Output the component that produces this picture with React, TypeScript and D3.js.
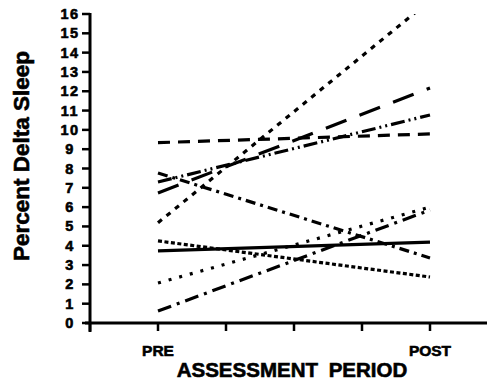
import * as d3 from 'd3';

// Assessment periods (x positions on a 0..5 axis)
const periods = ['PRE', 'POST'];
const periodPos = [1, 5];

// Percent delta sleep per subject: [PRE, POST]
const subjectIds = ['s1', 's2', 's3', 's4', 's5', 's6', 's7', 's8', 's9'];
const preValues = [9.34, 5.19, 6.73, 7.3, 7.77, 3.73, 4.25, 2.07, 0.62];
const postValues = [9.79, 16.7, 12.17, 10.77, 3.37, 4.19, 2.38, 6.0, 5.85];
const dashStyles = [
  '12,8',
  '5,6',
  '22,14',
  '14,4,2,4,2,4',
  '10,5,3,5',
  'none',
  '4,2.5',
  '3,8',
  '14,6,3,6',
];

const yTicks = d3.range(0, 17);
const xTicks = [0, 1, 2, 3, 4, 5];

const W = 487;
const H = 381;
const FONT = '"Liberation Sans", Arial, Helvetica, sans-serif';

export default function App() {
  const x = d3.scaleLinear().domain([0, 5]).range([90, 430]);
  const y = d3.scaleLinear().domain([0, 16]).range([323, 14]);

  const line = d3
    .line<[number, number]>()
    .x(d => x(d[0]))
    .y(d => y(d[1]));

  // heavier text, closer to the scanned Helvetica Black look
  const heavy = { stroke: '#000', strokeWidth: 0.6 };

  return (
    <div style={{ position: 'fixed', left: 0, top: 0, width: W, height: H, background: '#fff' }}>
      <svg width={W} height={H} style={{ display: 'block' }} fontFamily={FONT}>
        <defs>
          <clipPath id="plot">
            <rect x={x(0)} y={y(16)} width={W - x(0)} height={y(0) - y(16)} />
          </clipPath>
        </defs>

        {/* y axis */}
        <line x1={x(0)} x2={x(0)} y1={y(16) - 1} y2={y(0) + 9} stroke="#000" strokeWidth={3} />
        {yTicks.map(t => (
          <g key={t}>
            <line x1={x(0) - 8} x2={x(0)} y1={y(t)} y2={y(t)} stroke="#000" strokeWidth={2.5} />
            <text
              x={70}
              y={y(t) + 5}
              textAnchor="middle"
              fontSize={14.5}
              fontWeight="bold"
              letterSpacing={1.5}
              {...heavy}
            >
              {t}
            </text>
          </g>
        ))}

        {/* x axis */}
        <line x1={x(0) - 5} x2={W} y1={y(0)} y2={y(0)} stroke="#000" strokeWidth={3} />
        {xTicks.map(t => (
          <line key={t} x1={x(t)} x2={x(t)} y1={y(0)} y2={y(0) + 8} stroke="#000" strokeWidth={2.5} />
        ))}
        {periods.map((p, i) => (
          <text
            key={p}
            x={x(periodPos[i])}
            y={356}
            textAnchor="middle"
            fontSize={15.5}
            fontWeight="bold"
            {...heavy}
          >
            {p}
          </text>
        ))}

        {/* series */}
        <g clipPath="url(#plot)">
          {subjectIds.map((id, i) => (
            <path
              key={id}
              d={line([
                [periodPos[0], preValues[i]],
                [periodPos[1], postValues[i]],
              ]) as string}
              fill="none"
              stroke="#000"
              strokeWidth={3.2}
              strokeDasharray={dashStyles[i]}
            />
          ))}
        </g>

        {/* axis titles */}
        <text
          x={292}
          y={377}
          textAnchor="middle"
          fontSize={20.5}
          fontWeight="bold"
          wordSpacing={5}
          {...heavy}
        >
          ASSESSMENT PERIOD
        </text>
        <text
          transform="translate(29,156) rotate(-90)"
          textAnchor="middle"
          fontSize={22.5}
          fontWeight="bold"
          {...heavy}
        >
          Percent Delta Sleep
        </text>
      </svg>
    </div>
  );
}
